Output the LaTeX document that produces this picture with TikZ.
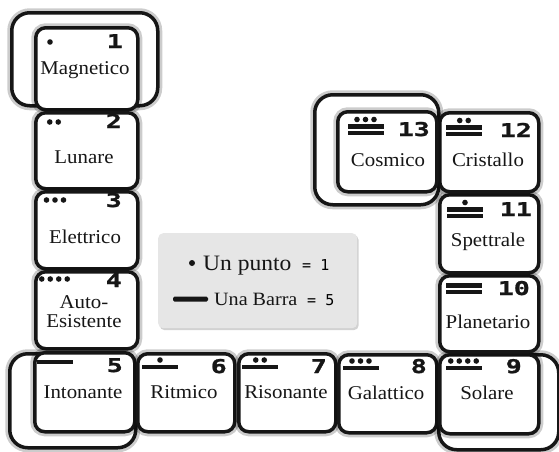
\documentclass[tikz,border=0pt]{standalone}
\usepackage{fontspec}
\setmainfont{Liberation Serif}[FakeStretch=1.07]
\newfontfamily\numfont{DejaVu Sans Mono}[FakeStretch=1.4, FakeBold=1.2]
\newfontfamily\keynumfont{DejaVu Sans Mono}
\usetikzlibrary{positioning,shadows}
\definecolor{tileink}{RGB}{22,22,22}
\definecolor{keygray}{RGB}{230,230,230}

% maya numeral: centre x, base y, bars, dots
\newcommand{\mayaglyph}[4]{%
  \pgfmathsetmacro{\dotrow}{#2-6.5*#3-(#3>0)*0.5}%
  \ifnum#3>0
    \foreach \k in {1,...,#3}{
      \fill[tileink] (#1-18,{#2-6.5*(\k-1)-2.1}) rectangle (#1+18,{#2-6.5*(\k-1)+2.1});
    }
  \fi
  \ifnum#4>0
    \foreach \j in {1,...,#4}{
      \fill[tileink] ({#1+(\j-(#4+1)/2)*8.5},\dotrow) circle (2.8pt);
    }
  \fi
}

\begin{document}
\begin{tikzpicture}[x=1pt, y=-1pt,
  tile/.style={draw=tileink, line width=3.5pt, rounded corners=10pt, fill=white,
    inner sep=0pt, anchor=north west,
    preaction={draw=black, line width=9pt, opacity=0.2}},
  frame/.style={tile, rounded corners=18pt},
  num/.style={font=\numfont\bfseries\fontsize{19}{19}\selectfont, anchor=base east,
    inner sep=0pt, text=tileink},
  lbl/.style={font=\fontsize{19.5}{19}\selectfont, align=center, inner sep=0pt,
    text=tileink}]
\useasboundingbox[fill=white] (0,0) rectangle (559,451);
% outer frames
\node[frame, minimum width=146pt, minimum height=93pt] (f1) at (10,11) {};
\node[frame, minimum width=126pt, minimum height=94pt] (f5) at (8,352) {};
\node[frame, minimum width=120pt, minimum height=95pt] (f9) at (437,353) {};
\node[frame, minimum width=124pt, minimum height=110pt] (f13) at (313,93) {};
% left column
\node[tile, minimum width=102pt, minimum height=82pt] (b1) at (34,26) {};
\node[num] (n1) at (123,48) {1};
\node[lbl] (l1) at (85,70) {Magnetico};
\mayaglyph{50}{42}{0}{1}
\node[tile, minimum width=102pt, minimum height=76pt] (b2) at (34,111) {};
\node[num] (n2) at (122,128) {2};
\node[lbl] (l2) at (84,157) {Lunare};
\mayaglyph{54}{122}{0}{2}
\node[tile, minimum width=102pt, minimum height=77pt] (b3) at (34,190) {};
\node[num] (n3) at (122,207) {3};
\node[lbl] (l3) at (85,237) {Elettrico};
\mayaglyph{55}{200}{0}{3}
\node[tile, minimum width=102pt, minimum height=77pt] (b4) at (34,270) {};
\node[num] (n4) at (122,287) {4};
\node[lbl] (l4) at (84,312) {Auto-\\Esistente};
\mayaglyph{54.5}{279}{0}{4}
% bottom row
\node[tile, minimum width=100pt, minimum height=79pt] (b5) at (33,351) {};
\node[num] (n5) at (123,372) {5};
\node[lbl] (l5) at (83,392) {Intonante};
\mayaglyph{55}{362}{1}{0}
\node[tile, minimum width=97pt, minimum height=78pt] (b6) at (136,352) {};
\node[num] (n6) at (227,373) {6};
\node[lbl] (l6) at (184,392) {Ritmico};
\mayaglyph{160}{367}{1}{1}
\node[tile, minimum width=97pt, minimum height=78pt] (b7) at (237,352) {};
\node[num] (n7) at (327,373) {7};
\node[lbl] (l7) at (286,392) {Risonante};
\mayaglyph{260}{367}{1}{2}
\node[tile, minimum width=98pt, minimum height=78pt] (b8) at (337,353) {};
\node[num] (n8) at (427,373) {8};
\node[lbl] (l8) at (386,393) {Galattico};
\mayaglyph{360.5}{368}{1}{3}
\node[tile, minimum width=99pt, minimum height=79pt] (b9) at (438,353) {};
\node[num] (n9) at (522,373) {9};
\node[lbl] (l9) at (487,393) {Solare};
\mayaglyph{463.5}{368}{1}{4}
% right column
\node[tile, minimum width=99pt, minimum height=76pt] (b10) at (438,274) {};
\node[num] (n10) at (530,295) {10};
\node[lbl] (l10) at (488,322) {Planetario};
\mayaglyph{464}{292}{2}{0}
\node[tile, minimum width=99pt, minimum height=78pt] (b11) at (438,193) {};
\node[num] (n11) at (532,216) {11};
\node[lbl] (l11) at (488,242) {Spettrale};
\mayaglyph{465}{216}{2}{1}
\node[tile, minimum width=99pt, minimum height=79pt] (b12) at (438,111) {};
\node[num] (n12) at (532,137) {12};
\node[lbl] (l12) at (488,160) {Cristallo};
\mayaglyph{464}{134}{2}{2}
\node[tile, minimum width=99pt, minimum height=80pt] (b13) at (336,110) {};
\node[num] (n13) at (430,136) {13};
\node[lbl] (l13) at (388,160) {Cosmico};
\mayaglyph{365.5}{133}{2}{3}
% key
\node[fill=keygray, rounded corners=5pt, anchor=north west,
  minimum width=199pt, minimum height=95pt,
  drop shadow={opacity=0.35, shadow xshift=1.5pt, shadow yshift=-2pt}]
  (key) at (158,233) {};
\fill[tileink] (192,263) circle (3pt);
\node[lbl, font=\fontsize{22}{22}\selectfont, anchor=base west] (punto) at (203,270) {Un punto};
\node[font=\keynumfont\fontsize{15}{15}\selectfont, anchor=base west, inner sep=0pt]
  (uno) at (302,270) {= 1};
\fill[tileink, rounded corners=1.5pt] (173,296.5) rectangle (208,301.5);
\node[lbl, font=\fontsize{18.8}{19}\selectfont, anchor=base west] (barra) at (214,305) {Una Barra};
\node[font=\keynumfont\fontsize{15}{15}\selectfont, anchor=base west, inner sep=0pt]
  (cinque) at (307,305) {= 5};
\end{tikzpicture}
\end{document}
